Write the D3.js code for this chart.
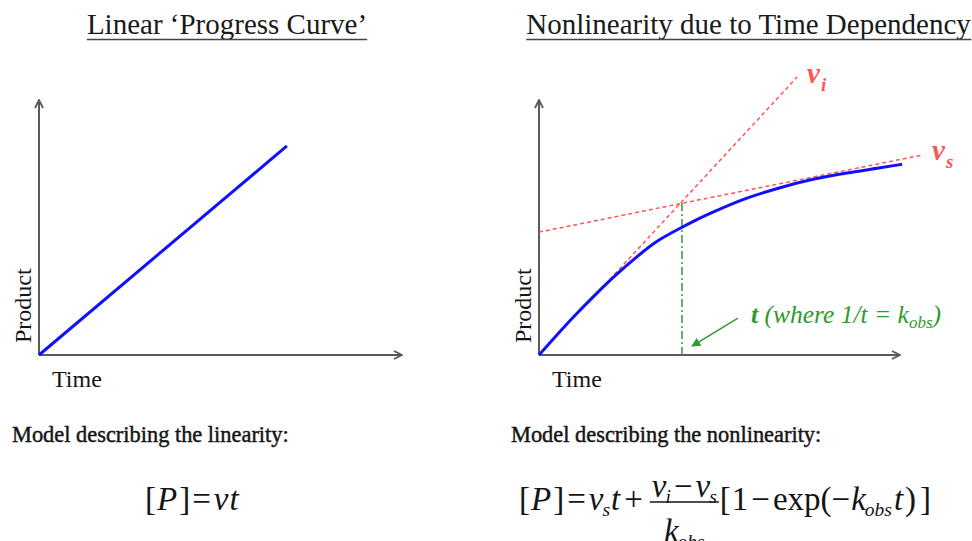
<!DOCTYPE html>
<html>
<head>
<meta charset="utf-8">
<script src="https://cdn.jsdelivr.net/npm/d3@7/dist/d3.min.js"></script>
<style>
  html, body { margin: 0; padding: 0; background: #fff; }
  svg { display: block; }
  text { font-family: "Liberation Serif", "Times New Roman", serif; }
</style>
</head>
<body>
<svg id="chart" width="972" height="541"></svg>
<script>
// Panel titles and axis labels
const titles = ["Linear \u2018Progress Curve\u2019", "Nonlinearity due to Time Dependency"];
const axisLabels = { x: "Time", y: "Product" };
const modelCaptions = ["Model describing the linearity:", "Model describing the nonlinearity:"];

// Linear progress curve: time, product (arbitrary units)
const linearTime = [0, 6.83];
const linearProduct = [0, 8.2];

// Time-dependent progress curve
const curveTime    = [0, 0.44, 1.00, 1.55, 2.11, 2.66, 3.21, 3.95, 4.32, 4.82, 5.76, 6.68, 7.59, 8.53, 9.45, 10.06];
const curveProduct = [0, 0.70, 1.56, 2.35, 3.11, 3.79, 4.40, 5.00, 5.27, 5.60, 6.15, 6.56, 6.89, 7.14, 7.34, 7.48];

// Initial-rate (v_i) and steady-state (v_s) tangents: [time, product] end points
const viTangent = [[1.69, 2.55], [7.15, 10.9]];
const vsTangent = [[0, 4.82], [10.61, 7.84]];

// Characteristic time t = 1/k_obs where the two tangents cross
const tObs = 3.96;
const tObsProduct = 6.0;
const tArrow = [[5.51, 1.45], [4.24, 0.35]];

const svg = d3.select("#chart");

const y = d3.scaleLinear().domain([0, 10]).range([355, 100]);
const xL = d3.scaleLinear().domain([0, 10]).range([39, 402]);
const xR = d3.scaleLinear().domain([0, 10]).range([539, 900]);

const axisColor = "#5a5a5a";
const blue = "#1010ff";
const red = "#ff5555";
const green = "#2f9a2f";
const ink = "#151515";

// markers
const defs = svg.append("defs");
defs.append("marker")
  .attr("id", "chev").attr("viewBox", "0 0 10 10")
  .attr("refX", 9).attr("refY", 5)
  .attr("markerWidth", 10).attr("markerHeight", 10)
  .attr("markerUnits", "userSpaceOnUse")
  .attr("orient", "auto")
  .append("path").attr("d", "M1,1 L9,5 L1,9")
  .attr("fill", "none").attr("stroke", axisColor).attr("stroke-width", 1.8);
defs.append("marker")
  .attr("id", "garrow").attr("viewBox", "0 0 10 10")
  .attr("refX", 9).attr("refY", 5)
  .attr("markerWidth", 10).attr("markerHeight", 9)
  .attr("markerUnits", "userSpaceOnUse")
  .attr("orient", "auto")
  .append("path").attr("d", "M0,0 L10,5 L0,10 Z")
  .attr("fill", green);

function drawAxes(x) {
  const g = svg.append("g");
  g.append("line")
    .attr("x1", x(0)).attr("y1", y(0)).attr("x2", x(10)).attr("y2", y(0))
    .attr("stroke", axisColor).attr("stroke-width", 2).attr("marker-end", "url(#chev)");
  g.append("line")
    .attr("x1", x(0)).attr("y1", y(0)).attr("x2", x(0)).attr("y2", y(10))
    .attr("stroke", axisColor).attr("stroke-width", 2).attr("marker-end", "url(#chev)");
  g.append("text")
    .attr("x", x(0) + 13).attr("y", 387)
    .attr("font-size", 24).attr("fill", ink)
    .text(axisLabels.x);
  g.append("text")
    .attr("transform", `translate(${x(0) - 8},${y(0) - 12}) rotate(-90)`)
    .attr("font-size", 24).attr("fill", ink)
    .text(axisLabels.y);
}

function drawTitle(text, cx) {
  const t = svg.append("text")
    .attr("x", cx).attr("y", 34)
    .attr("text-anchor", "middle")
    .attr("font-size", 29).attr("fill", "#1a1a1a")
    .text(text);
  const bb = t.node().getBBox();
  svg.append("line")
    .attr("x1", bb.x).attr("x2", bb.x + bb.width)
    .attr("y1", 39.5).attr("y2", 39.5)
    .attr("stroke", "#444").attr("stroke-width", 1.5);
}

drawTitle(titles[0], 227);
drawTitle(titles[1], 748.5);

drawAxes(xL);
drawAxes(xR);

// Left: linear progress
const linePts = linearTime.map((t, i) => [t, linearProduct[i]]);
svg.append("path")
  .attr("d", d3.line().x(d => xL(d[0])).y(d => y(d[1]))(linePts))
  .attr("fill", "none").attr("stroke", blue).attr("stroke-width", 3);

// Right: tangents
const tangentLine = d3.line().x(d => xR(d[0])).y(d => y(d[1]));
[viTangent, vsTangent].forEach(seg => {
  svg.append("path")
    .attr("d", tangentLine(seg))
    .attr("fill", "none").attr("stroke", red).attr("stroke-width", 1.5)
    .attr("stroke-dasharray", "4,3");
});

// characteristic time marker
svg.append("line")
  .attr("x1", xR(tObs)).attr("x2", xR(tObs))
  .attr("y1", y(0)).attr("y2", y(tObsProduct))
  .attr("stroke", green).attr("stroke-width", 1.5)
  .attr("stroke-dasharray", "8,3,2,3");

// curved progress
const curvePts = curveTime.map((t, i) => [t, curveProduct[i]]);
svg.append("path")
  .attr("d", d3.line().curve(d3.curveMonotoneX).x(d => xR(d[0])).y(d => y(d[1]))(curvePts))
  .attr("fill", "none").attr("stroke", blue).attr("stroke-width", 3);

// arrow to t
svg.append("line")
  .attr("x1", xR(tArrow[0][0])).attr("y1", y(tArrow[0][1]))
  .attr("x2", xR(tArrow[1][0])).attr("y2", y(tArrow[1][1]))
  .attr("stroke", green).attr("stroke-width", 1.5)
  .attr("marker-end", "url(#garrow)");

// tangent labels
function rateLabel(x0, y0, sub) {
  const t = svg.append("text").attr("x", x0).attr("y", y0)
    .attr("fill", red).attr("font-weight", "bold").attr("font-style", "italic")
    .attr("font-size", 29);
  t.append("tspan").text("v");
  t.append("tspan").attr("font-size", 19).attr("dy", 8).attr("dx", 1).text(sub);
}
rateLabel(807, 83, "i");
rateLabel(932, 160, "s");

// t annotation
{
  const t = svg.append("text").attr("x", 751).attr("y", 323)
    .attr("fill", green).attr("font-style", "italic").attr("font-size", 25.5);
  t.append("tspan").attr("font-weight", "bold").text("t");
  t.append("tspan").text(" (where 1/t = k");
  t.append("tspan").attr("font-size", 17).attr("dy", 5).text("obs");
  t.append("tspan").attr("dy", -5).text(")");
}

// model captions
[[12, modelCaptions[0]], [511, modelCaptions[1]]].forEach(([x0, s]) => {
  svg.append("text").attr("x", x0).attr("y", 442)
    .attr("font-size", 22.4).attr("fill", ink)
    .attr("stroke", ink).attr("stroke-width", 0.45)
    .text(s);
});

// ---- formulas, laid out token by token along a baseline ----
const FS = 33, SUB = 19.5;
function put(x0, y0, s, italic, size) {
  const t = svg.append("text").attr("x", x0).attr("y", y0)
    .attr("font-size", size).attr("font-style", italic ? "italic" : "normal")
    .attr("fill", ink).text(s);
  return t.node().getComputedTextLength();
}
// token: [text, italic, subscript, gapBefore]
function flow(x0, base, tokens) {
  let x = x0;
  tokens.forEach(tk => {
    if (tk.frac) { x += tk.gap || 0; x += fraction(x, base, tk.num, tk.den); return; }
    const [s, it, sub, gap] = tk;
    x += gap || 0;
    x += put(x, base, s, it, FS);
    if (sub) x += put(x + (it ? -1 : 0), base + 6, sub, true, SUB) - 1;
  });
  return x;
}
function measure(tokens) {
  const g = svg.append("g").attr("opacity", 0);
  let w = 0;
  tokens.forEach(([s, it, sub, gap]) => {
    w += gap || 0;
    w += g.append("text").attr("font-size", FS).attr("font-style", it ? "italic" : "normal")
      .text(s).node().getComputedTextLength();
    if (sub) w += g.append("text").attr("font-size", SUB).attr("font-style", "italic")
      .text(sub).node().getComputedTextLength() - 1;
  });
  g.remove();
  return w;
}
function fraction(x0, base, num, den) {
  const wn = measure(num), wd = measure(den);
  const w = Math.max(wn, wd) + 4;
  flow(x0 + (w - wn) / 2, base - 13, num);
  flow(x0 + (w - wd) / 2, base + 32, den);
  svg.append("line").attr("x1", x0).attr("x2", x0 + w)
    .attr("y1", base - 8).attr("y2", base - 8)
    .attr("stroke", ink).attr("stroke-width", 1.5);
  return w;
}

const B = 510;
// [P] = vt
flow(145, B, [
  ["[", false], ["P", true, null, 1], ["]", false, null, 2],
  ["=", false, null, 2], ["v", true, null, 3], ["t", true, null, 1]
]);

// [P] = v_s t + (v_i - v_s)/k_obs [1 - exp(-k_obs t)]
flow(519, B, [
  ["[", false], ["P", true, null, 1], ["]", false, null, 2],
  ["=", false, null, 3], ["v", true, "s", 3], ["t", true, null, 1],
  ["+", false, null, 4],
  { frac: true, gap: 7,
    num: [["v", true, "i"], ["\u2212", false, null, 3], ["v", true, "s", 3]],
    den: [["k", true, "obs"]] },
  ["[", false, null, 1], ["1", false, null, 1], ["\u2212", false, null, 3],
  ["exp(", false, null, 3], ["\u2212", false], ["k", true, "obs", 1],
  ["t", true, null, 2], [")", false, null, 2], ["]", false, null, 4]
]);
</script>
</body>
</html>
